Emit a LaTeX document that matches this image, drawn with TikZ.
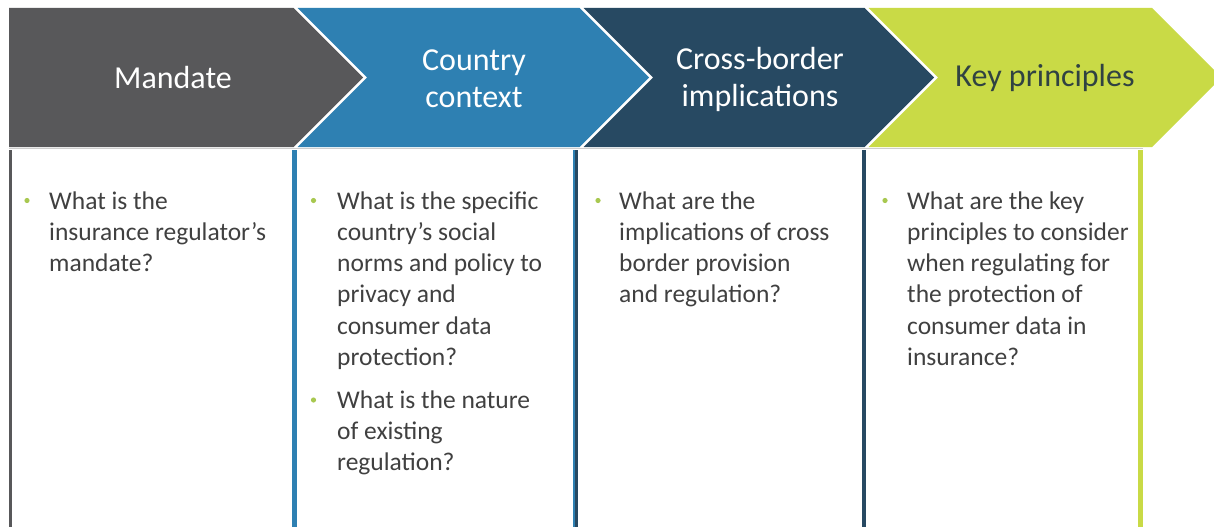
\documentclass[tikz,border=0pt]{standalone}
\usepackage{fontspec}
\setmainfont{Carlito}
\definecolor{cgray}{RGB}{88,88,90}
\definecolor{cblue}{RGB}{46,128,178}
\definecolor{cnavy}{RGB}{39,73,98}
\definecolor{clime}{RGB}{201,218,70}
\definecolor{ctxt}{RGB}{64,64,64}
\definecolor{ckey}{RGB}{48,66,66}
\definecolor{cbullet}{RGB}{168,200,80}
\definecolor{csep}{RGB}{205,205,205}
\newcommand{\bodylines}[4]{%
  \foreach \t [count=\i] in {#4}
    \node[bodytext] (#1\i) at (#2, {#3+31.3*(\i-1)}) {\t};}
\begin{document}
\begin{tikzpicture}[x=1pt,y=-1pt,
  headtext/.style={font=\fontsize{32}{37}\selectfont, align=center, text=white, inner sep=0},
  bodytext/.style={font=\fontsize{25.5}{31}\selectfont, text=ctxt, anchor=base west, inner sep=0},
  bulletdot/.style={fill=cbullet},
  sepline/.style={draw=csep, line width=1.2pt},
  boxline/.style={line width=4pt}]
\useasboundingbox (0,0) rectangle (1214,527);
\clip (0,0) rectangle (1214,527);
\fill[white] (0,0) rectangle (1214,527);
% chevrons
\fill[cgray] (9,8) -- (293.5,8) -- (363,77.5) -- (293.5,147) -- (9,147) -- cycle;
\fill[cblue] (297.5,8) -- (579.5,8) -- (649,77.5) -- (579.5,147) -- (297.5,147) -- (367,77.5) -- cycle;
\fill[cnavy] (583.5,8) -- (864.5,8) -- (934,77.5) -- (864.5,147) -- (583.5,147) -- (653,77.5) -- cycle;
\fill[clime] (868.5,8) -- (1152,8) -- (1221.5,77.5) -- (1152,147) -- (868.5,147) -- (938,77.5) -- cycle;
% header texts
\node[headtext] (h1) at (173,77.5) {Mandate};
\node[headtext] (h2) at (474,78.5) {Country\\context};
\node[headtext] (h3) at (760,79) {Cross-border\\implications};
\node[headtext, text=ckey] (h4) at (1045,77.5) {Key principles};
% separator and box borders
\draw[sepline] (9,148.8) -- (1143,148.8);
\draw[boxline, draw=cgray, line width=3.5pt] (10.5,150) -- (10.5,527);
\draw[boxline, draw=cblue, line width=5pt] (294,150) -- (294,527);
\draw[boxline, draw=cblue, line width=2.6pt] (574,150) -- (574,527);
\draw[boxline, draw=cnavy, line width=2.6pt] (576.6,150) -- (576.6,527);
\draw[boxline, draw=cnavy] (863.7,150) -- (863.7,527);
\draw[boxline, draw=clime, line width=4.3pt] (1140.5,150) -- (1140.5,527);
% bullets
\fill[bulletdot] (27,200.5) circle (2.6);
\fill[bulletdot] (313.5,200.5) circle (2.6);
\fill[bulletdot] (313.5,400) circle (2.6);
\fill[bulletdot] (598,200.5) circle (2.6);
\fill[bulletdot] (885,200.5) circle (2.6);
% body texts
\bodylines{ma}{49}{209}{What is the, insurance regulator’s, mandate?}
\bodylines{ca}{337}{209}{What is the specific, country’s social, norms and policy to, privacy and, consumer data, protection?}
\bodylines{cb}{337}{408}{What is the nature, of existing, regulation?}
\bodylines{xa}{619}{209}{What are the, implications of cross, border provision, and regulation?}
\bodylines{ka}{907}{209}{What are the key, principles to consider, when regulating for, the protection of, consumer data in, insurance?}
\end{tikzpicture}
\end{document}
